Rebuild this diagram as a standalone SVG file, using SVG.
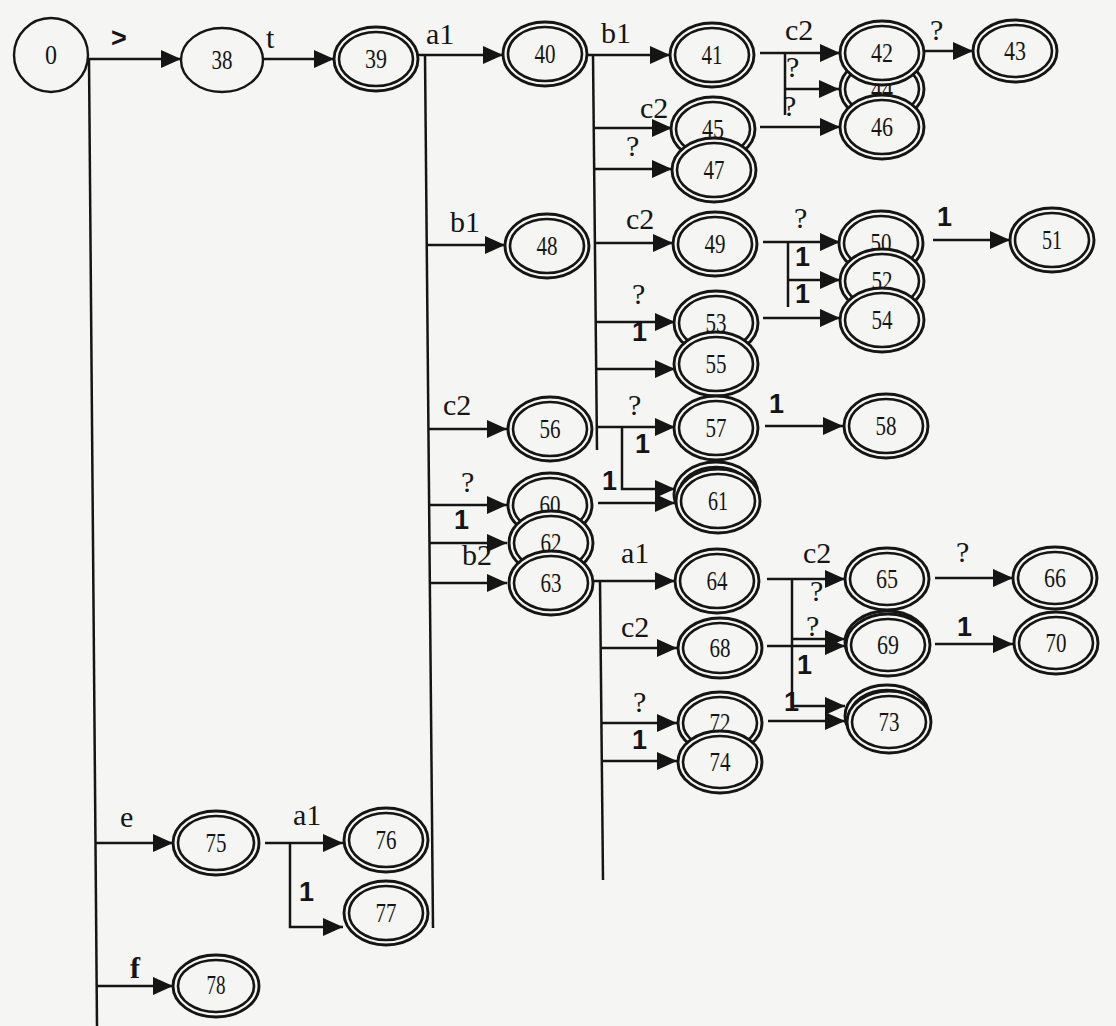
<svg xmlns="http://www.w3.org/2000/svg" width="1116" height="1026" viewBox="0 0 1116 1026">
<style>
.bg{fill:#f5f5f3}
.o{fill:#f5f5f3;stroke:#151515;stroke-width:2.9}
.i{fill:none;stroke:#151515;stroke-width:2.6}
.s{fill:#f5f5f3;stroke:#151515;stroke-width:2.4}
.node text{font-family:"Liberation Serif","Times New Roman",serif;font-size:27px;text-anchor:middle;fill:#151515}
.edges path{fill:none;stroke:#151515;stroke-width:2.5}
.edges path.a{marker-end:url(#ah)}
.lbl{font-family:"Liberation Serif","Times New Roman",serif;font-size:30px;fill:#151515}
.q{font-family:"Liberation Serif","Times New Roman",serif;font-size:30px;fill:#151515}
.one{font-family:"Liberation Sans",Arial,sans-serif;font-size:27px;font-weight:bold;fill:#151515}
</style>
<defs>
<marker id="ah" markerWidth="20" markerHeight="18" refX="20" refY="9" orient="auto" markerUnits="userSpaceOnUse">
<path d="M0,0 L20,9 L0,18 z" fill="#151515"/>
</marker>
</defs>
<rect class="bg" x="0" y="0" width="1116" height="1026"/>

<g id="connectors" class="edges">
<path class="a" d="M88,59 H181"/>
<path class="a" d="M262,59 H334"/>
<path d="M89,59 L97,1026"/>
<path class="a" d="M95,843 H173"/>
<path class="a" d="M97,986 H173"/>
<path d="M425,55 L433,928"/>
<path class="a" d="M418,55 H503"/>
<path class="a" d="M427,245 H505"/>
<path class="a" d="M429,429 H507"/>
<path class="a" d="M430,505 H507"/>
<path class="a" d="M430,543 H507"/>
<path class="a" d="M431,583 H507"/>
<path d="M593,55 L597,450"/>
<path class="a" d="M588,55 H670"/>
<path class="a" d="M593,128 H672"/>
<path class="a" d="M594,169 H672"/>
<path class="a" d="M595,243 H673"/>
<path class="a" d="M596,322 H675"/>
<path class="a" d="M596,369 H675"/>
<path class="a" d="M597,427 H675"/>
<path class="a" d="M622,427 V489 H675"/>
<path class="a" d="M598,503 H675"/>
<path d="M600,581 L603,880"/>
<path class="a" d="M593,581 H675"/>
<path class="a" d="M601,648 H677"/>
<path class="a" d="M602,723 H677"/>
<path class="a" d="M602,761 H677"/>
<path class="a" d="M760,53 H840"/>
<path d="M785,53 V115"/>
<path class="a" d="M785,89 H839"/>
<path class="a" d="M760,127 H840"/>
<path class="a" d="M923,51 H973"/>
<path class="a" d="M763,242 H840"/>
<path d="M788,242 V307"/>
<path class="a" d="M788,280 H840"/>
<path class="a" d="M763,318 H840"/>
<path class="a" d="M933,240 H1010"/>
<path class="a" d="M765,426 H843"/>
<path class="a" d="M767,579 H845"/>
<path d="M792,579 V706"/>
<path class="a" d="M792,639 H845"/>
<path class="a" d="M792,706 H845"/>
<path class="a" d="M767,646 H845"/>
<path class="a" d="M768,721 H845"/>
<path class="a" d="M935,578 H1013"/>
<path class="a" d="M935,644 H1013"/>
<path class="a" d="M265,843 H343"/>
<path class="a" d="M290,843 V927 H343"/>
</g>

<g id="labels">
<text class="one" x="111" y="47">&gt;</text>
<text class="lbl" x="266" y="48">t</text>
<text class="lbl" x="426" y="44">a1</text>
<text class="lbl" x="601" y="43">b1</text>
<text class="lbl" x="640" y="118">c2</text>
<text class="q" x="626" y="156">?</text>
<text class="lbl" x="785" y="40">c2</text>
<text class="q" x="786" y="77">?</text>
<text class="q" x="783" y="116">?</text>
<text class="q" x="930" y="40">?</text>
<text class="lbl" x="450" y="232">b1</text>
<text class="lbl" x="626" y="229">c2</text>
<text class="q" x="632" y="304">?</text>
<text class="one" x="632" y="341">1</text>
<text class="q" x="794" y="228">?</text>
<text class="one" x="795" y="266">1</text>
<text class="one" x="795" y="303">1</text>
<text class="one" x="937" y="226">1</text>
<text class="lbl" x="443" y="415">c2</text>
<text class="q" x="628" y="415">?</text>
<text class="one" x="635" y="453">1</text>
<text class="one" x="602" y="490">1</text>
<text class="one" x="769" y="413">1</text>
<text class="q" x="461" y="492">?</text>
<text class="one" x="454" y="529">1</text>
<text class="lbl" x="462" y="565">b2</text>
<text class="lbl" x="621" y="563">a1</text>
<text class="lbl" x="803" y="563">c2</text>
<text class="q" x="810" y="601">?</text>
<text class="q" x="806" y="636">?</text>
<text class="one" x="797" y="674">1</text>
<text class="one" x="784" y="711">1</text>
<text class="q" x="956" y="562">?</text>
<text class="one" x="957" y="636">1</text>
<text class="lbl" x="621" y="637">c2</text>
<text class="q" x="633" y="712">?</text>
<text class="one" x="632" y="749">1</text>
<text class="lbl" x="120" y="827">e</text>
<text class="lbl" x="293" y="825">a1</text>
<text class="one" x="299" y="901">1</text>
<text class="lbl" x="130" y="978" font-weight="bold">f</text>
</g>

<g id="n0" class="node"><circle class="s" cx="51" cy="55" r="37"/><text x="51" y="64" textLength="12" lengthAdjust="spacingAndGlyphs">0</text></g>
<g id="n38" class="node"><ellipse class="s" cx="222" cy="60" rx="41" ry="32"/><text x="222" y="69" textLength="21" lengthAdjust="spacingAndGlyphs">38</text></g>
<g id="n39" class="node"><ellipse class="o" cx="376" cy="59" rx="42" ry="32"/><ellipse class="i" cx="376" cy="59" rx="37" ry="27"/><text x="376" y="68" textLength="22" lengthAdjust="spacingAndGlyphs">39</text></g>
<g id="n40" class="node"><ellipse class="o" cx="545" cy="54" rx="42" ry="32"/><ellipse class="i" cx="545" cy="54" rx="37" ry="27"/><text x="545" y="63" textLength="21" lengthAdjust="spacingAndGlyphs">40</text></g>
<g id="n41" class="node"><ellipse class="o" cx="712" cy="55" rx="42" ry="32"/><ellipse class="i" cx="712" cy="55" rx="37" ry="27"/><text x="712" y="64" textLength="21" lengthAdjust="spacingAndGlyphs">41</text></g>
<g id="n44" class="node"><ellipse class="o" cx="882" cy="89" rx="42" ry="32"/><ellipse class="i" cx="882" cy="89" rx="37" ry="27"/><text x="882" y="98" textLength="22" lengthAdjust="spacingAndGlyphs">44</text></g>
<g id="n42" class="node"><ellipse class="o" cx="882" cy="53" rx="42" ry="32"/><ellipse class="i" cx="882" cy="53" rx="37" ry="27"/><text x="882" y="62" textLength="22" lengthAdjust="spacingAndGlyphs">42</text></g>
<g id="n46" class="node"><ellipse class="o" cx="882" cy="127" rx="42" ry="32"/><ellipse class="i" cx="882" cy="127" rx="37" ry="27"/><text x="882" y="136" textLength="22" lengthAdjust="spacingAndGlyphs">46</text></g>
<g id="n43" class="node"><ellipse class="o" cx="1015" cy="51" rx="42" ry="31"/><ellipse class="i" cx="1015" cy="51" rx="37" ry="26"/><text x="1015" y="60" textLength="22" lengthAdjust="spacingAndGlyphs">43</text></g>
<g id="n45" class="node"><ellipse class="o" cx="713" cy="129" rx="42" ry="32"/><ellipse class="i" cx="713" cy="129" rx="37" ry="27"/><text x="713" y="138" textLength="22" lengthAdjust="spacingAndGlyphs">45</text></g>
<g id="n47" class="node"><ellipse class="o" cx="714" cy="170" rx="42" ry="32"/><ellipse class="i" cx="714" cy="170" rx="37" ry="27"/><text x="714" y="179" textLength="21" lengthAdjust="spacingAndGlyphs">47</text></g>
<g id="n48" class="node"><ellipse class="o" cx="547" cy="246" rx="42" ry="32"/><ellipse class="i" cx="547" cy="246" rx="37" ry="27"/><text x="547" y="255" textLength="21" lengthAdjust="spacingAndGlyphs">48</text></g>
<g id="n49" class="node"><ellipse class="o" cx="715" cy="244" rx="42" ry="32"/><ellipse class="i" cx="715" cy="244" rx="37" ry="27"/><text x="715" y="253" textLength="21" lengthAdjust="spacingAndGlyphs">49</text></g>
<g id="n50" class="node"><ellipse class="o" cx="881" cy="243" rx="42" ry="32"/><ellipse class="i" cx="881" cy="243" rx="37" ry="27"/><text x="881" y="252" textLength="21" lengthAdjust="spacingAndGlyphs">50</text></g>
<g id="n52" class="node"><ellipse class="o" cx="882" cy="281" rx="42" ry="32"/><ellipse class="i" cx="882" cy="281" rx="37" ry="27"/><text x="882" y="290" textLength="21" lengthAdjust="spacingAndGlyphs">52</text></g>
<g id="n54" class="node"><ellipse class="o" cx="882" cy="320" rx="42" ry="32"/><ellipse class="i" cx="882" cy="320" rx="37" ry="27"/><text x="882" y="329" textLength="21" lengthAdjust="spacingAndGlyphs">54</text></g>
<g id="n51" class="node"><ellipse class="o" cx="1052" cy="240" rx="42" ry="32"/><ellipse class="i" cx="1052" cy="240" rx="37" ry="27"/><text x="1052" y="249" textLength="20" lengthAdjust="spacingAndGlyphs">51</text></g>
<g id="n53" class="node"><ellipse class="o" cx="716" cy="323" rx="42" ry="32"/><ellipse class="i" cx="716" cy="323" rx="37" ry="27"/><text x="716" y="332" textLength="21" lengthAdjust="spacingAndGlyphs">53</text></g>
<g id="n55" class="node"><ellipse class="o" cx="716" cy="364" rx="42" ry="32"/><ellipse class="i" cx="716" cy="364" rx="37" ry="27"/><text x="716" y="373" textLength="21" lengthAdjust="spacingAndGlyphs">55</text></g>
<g id="n56" class="node"><ellipse class="o" cx="550" cy="429" rx="42" ry="32"/><ellipse class="i" cx="550" cy="429" rx="37" ry="27"/><text x="550" y="438" textLength="21" lengthAdjust="spacingAndGlyphs">56</text></g>
<g id="n57" class="node"><ellipse class="o" cx="716" cy="428" rx="42" ry="32"/><ellipse class="i" cx="716" cy="428" rx="37" ry="27"/><text x="716" y="437" textLength="21" lengthAdjust="spacingAndGlyphs">57</text></g>
<g id="n58" class="node"><ellipse class="o" cx="886" cy="426" rx="42" ry="32"/><ellipse class="i" cx="886" cy="426" rx="37" ry="27"/><text x="886" y="435" textLength="21" lengthAdjust="spacingAndGlyphs">58</text></g>
<g id="n60" class="node"><ellipse class="o" cx="550" cy="505" rx="42" ry="32"/><ellipse class="i" cx="550" cy="505" rx="37" ry="27"/><text x="550" y="514" textLength="21" lengthAdjust="spacingAndGlyphs">60</text></g>
<g id="n62" class="node"><ellipse class="o" cx="551" cy="543" rx="42" ry="32"/><ellipse class="i" cx="551" cy="543" rx="37" ry="27"/><text x="551" y="552" textLength="21" lengthAdjust="spacingAndGlyphs">62</text></g>
<g id="n63" class="node"><ellipse class="o" cx="551" cy="583" rx="42" ry="32"/><ellipse class="i" cx="551" cy="583" rx="37" ry="27"/><text x="551" y="592" textLength="21" lengthAdjust="spacingAndGlyphs">63</text></g>
<g id="n61" class="node"><ellipse class="o" cx="716" cy="494" rx="42" ry="32"/><ellipse class="i" cx="716" cy="494" rx="37" ry="27"/><ellipse class="o" cx="718" cy="501" rx="42" ry="32"/><ellipse class="i" cx="718" cy="501" rx="37" ry="27"/><text x="718" y="510" textLength="20" lengthAdjust="spacingAndGlyphs">61</text></g>
<g id="n64" class="node"><ellipse class="o" cx="717" cy="581" rx="42" ry="32"/><ellipse class="i" cx="717" cy="581" rx="37" ry="27"/><text x="717" y="590" textLength="21" lengthAdjust="spacingAndGlyphs">64</text></g>
<g id="n65" class="node"><ellipse class="o" cx="887" cy="579" rx="42" ry="31"/><ellipse class="i" cx="887" cy="579" rx="37" ry="26"/><text x="887" y="588" textLength="22" lengthAdjust="spacingAndGlyphs">65</text></g>
<g id="n66" class="node"><ellipse class="o" cx="1055" cy="578" rx="42" ry="31"/><ellipse class="i" cx="1055" cy="578" rx="37" ry="26"/><text x="1055" y="587" textLength="22" lengthAdjust="spacingAndGlyphs">66</text></g>
<g id="n68" class="node"><ellipse class="o" cx="720" cy="648" rx="42" ry="30"/><ellipse class="i" cx="720" cy="648" rx="37" ry="25"/><text x="720" y="657" textLength="21" lengthAdjust="spacingAndGlyphs">68</text></g>
<g id="n69" class="node"><ellipse class="o" cx="887" cy="642" rx="42" ry="31"/><ellipse class="o" cx="888" cy="645" rx="42" ry="31"/><ellipse class="i" cx="888" cy="645" rx="37" ry="26"/><text x="888" y="654" textLength="22" lengthAdjust="spacingAndGlyphs">69</text></g>
<g id="n70" class="node"><ellipse class="o" cx="1056" cy="643" rx="42" ry="31"/><ellipse class="i" cx="1056" cy="643" rx="37" ry="26"/><text x="1056" y="652" textLength="21" lengthAdjust="spacingAndGlyphs">70</text></g>
<g id="n72" class="node"><ellipse class="o" cx="720" cy="723" rx="42" ry="31"/><ellipse class="i" cx="720" cy="723" rx="37" ry="26"/><text x="720" y="732" textLength="21" lengthAdjust="spacingAndGlyphs">72</text></g>
<g id="n74" class="node"><ellipse class="o" cx="720" cy="762" rx="42" ry="31"/><ellipse class="i" cx="720" cy="762" rx="37" ry="26"/><text x="720" y="771" textLength="21" lengthAdjust="spacingAndGlyphs">74</text></g>
<g id="n73" class="node"><ellipse class="o" cx="887" cy="716" rx="42" ry="31"/><ellipse class="i" cx="887" cy="716" rx="37" ry="26"/><ellipse class="o" cx="889" cy="722" rx="42" ry="31"/><ellipse class="i" cx="889" cy="722" rx="37" ry="26"/><text x="889" y="731" textLength="21" lengthAdjust="spacingAndGlyphs">73</text></g>
<g id="n75" class="node"><ellipse class="o" cx="216" cy="843" rx="43" ry="32"/><ellipse class="i" cx="216" cy="843" rx="38" ry="27"/><text x="216" y="852" textLength="21" lengthAdjust="spacingAndGlyphs">75</text></g>
<g id="n76" class="node"><ellipse class="o" cx="386" cy="840" rx="42" ry="32"/><ellipse class="i" cx="386" cy="840" rx="37" ry="27"/><text x="386" y="849" textLength="21" lengthAdjust="spacingAndGlyphs">76</text></g>
<g id="n77" class="node"><ellipse class="o" cx="386" cy="913" rx="42" ry="32"/><ellipse class="i" cx="386" cy="913" rx="37" ry="27"/><text x="386" y="922" textLength="21" lengthAdjust="spacingAndGlyphs">77</text></g>
<g id="n78" class="node"><ellipse class="o" cx="216" cy="986" rx="43" ry="31"/><ellipse class="i" cx="216" cy="986" rx="38" ry="26"/><text x="216" y="994" textLength="19" lengthAdjust="spacingAndGlyphs">78</text></g>
</svg>
